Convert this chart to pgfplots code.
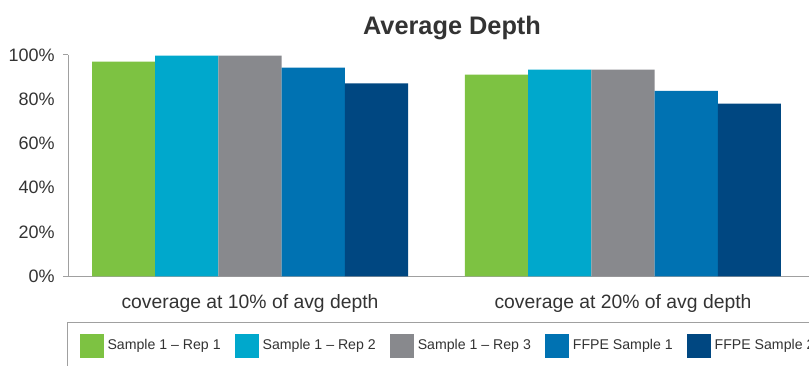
\documentclass[border=0pt]{standalone}
\usepackage{pgfplots}
\pgfplotsset{compat=1.18}
\usepackage{fontspec}
\setmainfont{Liberation Sans}
\definecolor{cgreen}{RGB}{125,194,66}
\definecolor{ccyan}{RGB}{0,168,204}
\definecolor{cgray}{RGB}{136,137,141}
\definecolor{cblue}{RGB}{0,114,178}
\definecolor{cnavy}{RGB}{0,71,129}
\definecolor{axisgray}{RGB}{160,160,160}
\definecolor{textgray}{RGB}{51,51,51}
\pgfplotsset{
  mybar/.style={fill=#1, draw=none,
    legend image code/.code={\fill[#1] (0pt,-9pt) rectangle (18pt,9pt);}},
}
\begin{document}
\begin{tikzpicture}[x=0.75pt,y=0.75pt]
\useasboundingbox (0,0) rectangle (809,365);
\clip (0,0) rectangle (809,365);
\node[font=\bfseries\fontsize{19}{22}\selectfont, text=textgray, anchor=base] at (452,330) {Average Depth};
\begin{axis}[
  at={(51pt,66.525pt)}, anchor=south west,
  scale only axis, width=556.1pt, height=166pt,
  ybar=0pt, bar width=47.4pt,
  xmin=-0.488, xmax=1.5, ymin=0, ymax=100,
  xtick={0,1},
  xticklabels={coverage at 10\% of avg depth, coverage at 20\% of avg depth},
  ytick={0,20,40,60,80,100},
  yticklabel={\pgfmathprintnumber{\tick}\%},
  /pgf/number format/assume math mode=true,
  axis x line*=bottom, axis y line*=left,
  axis line style={draw=axisgray, line width=0.75pt},
  xtick style={draw=none}, ytick style={draw=none},
  xticklabel style={font=\fontsize{14.5}{17}\selectfont, text=textgray, inner sep=0pt, yshift=-8.8pt},
  yticklabel style={font=\fontsize{13.5}{16}\selectfont, text=textgray, inner sep=0pt, xshift=-9.75pt},
  extra y ticks={0,100},
  extra y tick labels={},
  extra y tick style={ytick style={draw=axisgray, line width=0.75pt}, major tick length=3.75pt, tick align=outside},
  legend columns=5,
  legend style={at={(-0.00135,-0.2065)}, anchor=north west,
    draw=axisgray, line width=0.75pt, text=textgray,
    font=\fontsize{10.6}{13}\selectfont,
    inner xsep=9pt, inner ysep=8.25pt,
    nodes={inner sep=0pt},
    /tikz/every odd column/.style={column sep=3pt},
    /tikz/every even column/.style={column sep=10.5pt}},
  legend cell align=left,
]
\addplot[mybar=cgreen] coordinates {(0,97.0) (1,91.1)};
\addplot[mybar=ccyan] coordinates {(0,99.7) (1,93.4)};
\addplot[mybar=cgray] coordinates {(0,99.7) (1,93.4)};
\addplot[mybar=cblue] coordinates {(0,94.3) (1,83.8)};
\addplot[mybar=cnavy] coordinates {(0,87.2) (1,78.0)};
\legend{Sample 1 – Rep 1, Sample 1 – Rep 2, Sample 1 – Rep 3, FFPE Sample 1, FFPE Sample 2}
\end{axis}
\end{tikzpicture}
\end{document}
